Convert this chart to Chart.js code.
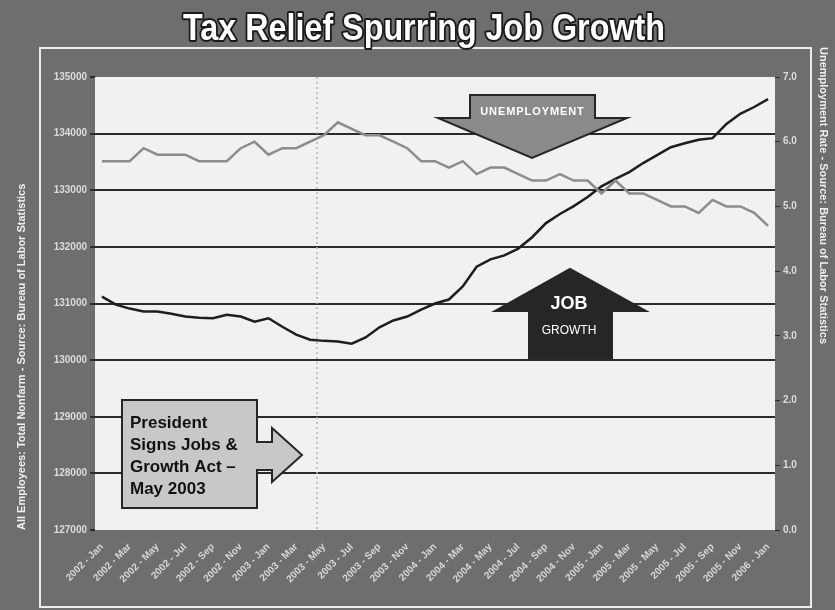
<!DOCTYPE html>
<html>
<head>
<meta charset="utf-8">
<script src="https://cdn.jsdelivr.net/npm/chart.js@4/dist/chart.umd.min.js"></script>
<style>
  html, body { margin: 0; padding: 0; background: #6e6e6e; }
  canvas { display: block; }
</style>
</head>
<body>
<canvas id="chart" width="835" height="610"></canvas>
<script>
// Meses y años del eje X (ene 2002 - ene 2006)
const years = [2002, 2003, 2004, 2005, 2006];
const months = ["Jan", "Feb", "Mar", "Apr", "May", "Jun", "Jul", "Aug", "Sep", "Oct", "Nov", "Dec"];

// Empleo total no agrícola (miles) - eje izquierdo
const employment = [
    131120, 130980, 130910, 130860, 130860, 130820, 130770, 130750, 130740, 130800, 130770, 130680,
    130740, 130590, 130450, 130360, 130340, 130330, 130290, 130400, 130580, 130700, 130770, 130890,
    131000, 131070, 131300, 131650, 131780, 131850, 131970, 132170, 132420, 132580, 132720, 132880,
    133070, 133200, 133320, 133480, 133620, 133760, 133830, 133890, 133920, 134170, 134350, 134470,
    134610
];

// Tasa de desempleo (%) - eje derecho
const unemployment = [
    5.7, 5.7, 5.7, 5.9, 5.8, 5.8, 5.8, 5.7, 5.7, 5.7, 5.9, 6.0,
    5.8, 5.9, 5.9, 6.0, 6.1, 6.3, 6.2, 6.1, 6.1, 6.0, 5.9, 5.7,
    5.7, 5.6, 5.7, 5.5, 5.6, 5.6, 5.5, 5.4, 5.4, 5.5, 5.4, 5.4,
    5.2, 5.4, 5.2, 5.2, 5.1, 5.0, 5.0, 4.9, 5.1, 5.0, 5.0, 4.9,
    4.7
];

// Escalas
const leftTicks = { min: 127000, max: 135000, step: 1000 };
const rightTicks = { min: 0, max: 7, step: 1 };

// Índice del mes de la firma de la ley (mayo 2003)
const actIndex = 16;

const labels = [];
years.forEach(y => months.forEach(m => labels.push(`${y} - ${m}`)));
labels.length = employment.length;

const FONT = "'Liberation Sans', Arial, sans-serif";

// Fondo, marco, anotaciones y textos
const decorPlugin = {
    id: "decor",
    beforeDraw(chart) {
        const { ctx, chartArea: a } = chart;
        ctx.save();
        ctx.fillStyle = "#6e6e6e";
        ctx.fillRect(0, 0, chart.width, chart.height);
        ctx.fillStyle = "#f1f1f1";
        ctx.fillRect(a.left, a.top, a.right - a.left, a.bottom - a.top);
        ctx.strokeStyle = "#ececec";
        ctx.lineWidth = 2;
        ctx.strokeRect(40, 48, 771, 559);
        ctx.restore();
    },
    beforeDatasetsDraw(chart) {
        const { ctx, chartArea: a } = chart;
        const xs = chart.scales.x;
        const half = (xs.getPixelForValue(1) - xs.getPixelForValue(0)) / 2;
        const x = xs.getPixelForValue(actIndex) - half;
        ctx.save();
        ctx.strokeStyle = "#b4b4b4";
        ctx.lineWidth = 1.5;
        ctx.setLineDash([2, 3]);
        ctx.beginPath();
        ctx.moveTo(x, a.top);
        ctx.lineTo(x, a.bottom);
        ctx.stroke();
        ctx.restore();
    },
    afterDatasetsDraw(chart) {
        const { ctx } = chart;
        ctx.save();
        ctx.lineJoin = "miter";
        ctx.lineWidth = 2;
        ctx.strokeStyle = "#262626";

        // Flecha "UNEMPLOYMENT" (hacia abajo)
        ctx.beginPath();
        ctx.moveTo(470, 95); ctx.lineTo(595, 95); ctx.lineTo(595, 118);
        ctx.lineTo(627, 118); ctx.lineTo(532, 158); ctx.lineTo(438, 118);
        ctx.lineTo(470, 118); ctx.closePath();
        ctx.fillStyle = "#8a8a8a";
        ctx.fill(); ctx.stroke();
        ctx.fillStyle = "#ffffff";
        ctx.font = `bold 11px ${FONT}`;
        ctx.textAlign = "center";
        ctx.textBaseline = "middle";
        ctx.fillText("U N E M P L O Y M E N T".replace(/ /g, "\u200A"), 532, 112);

        // Flecha "JOB GROWTH" (hacia arriba)
        ctx.beginPath();
        ctx.moveTo(570, 269); ctx.lineTo(646, 311); ctx.lineTo(612, 311);
        ctx.lineTo(612, 358); ctx.lineTo(529, 358); ctx.lineTo(529, 311);
        ctx.lineTo(495, 311); ctx.closePath();
        ctx.fillStyle = "#262626";
        ctx.fill(); ctx.stroke();
        ctx.fillStyle = "#ffffff";
        ctx.font = `bold 18px ${FONT}`;
        ctx.fillText("JOB", 569, 304);
        ctx.font = `12px ${FONT}`;
        ctx.fillText("GROWTH", 569, 331);

        // Globo "President Signs..."
        ctx.beginPath();
        ctx.moveTo(122, 400); ctx.lineTo(257, 400); ctx.lineTo(257, 442);
        ctx.lineTo(272, 442); ctx.lineTo(272, 428); ctx.lineTo(302, 455);
        ctx.lineTo(272, 482); ctx.lineTo(272, 470); ctx.lineTo(257, 470);
        ctx.lineTo(257, 508); ctx.lineTo(122, 508); ctx.closePath();
        ctx.fillStyle = "#c8c8c8";
        ctx.fill(); ctx.stroke();
        ctx.fillStyle = "#111111";
        ctx.font = `bold 17px ${FONT}`;
        ctx.textAlign = "left";
        ["President", "Signs Jobs &", "Growth Act \u2013", "May 2003"].forEach((t, i) => {
            ctx.fillText(t, 130, 423 + i * 22);
        });
        ctx.restore();
    },
    afterDraw(chart) {
        const { ctx } = chart;
        ctx.save();
        // Título
        const title = "Tax Relief Spurring Job Growth";
        ctx.font = `bold 36px 'Liberation Sans Narrow', 'Arial Narrow', ${FONT}`;
        const w = ctx.measureText(title).width;
        ctx.translate(424, 40);
        ctx.scale(482 / w, 1);
        ctx.textAlign = "center";
        ctx.textBaseline = "alphabetic";
        ctx.lineWidth = 4;
        ctx.lineJoin = "round";
        ctx.strokeStyle = "#1a1a1a";
        ctx.strokeText(title, 0, 0);
        ctx.fillStyle = "#ffffff";
        ctx.fillText(title, 0, 0);
        ctx.restore();

        // Títulos de ejes
        ctx.save();
        ctx.fillStyle = "#f0f0f0";
        ctx.font = `bold 11px ${FONT}`;
        ctx.textBaseline = "middle";
        ctx.translate(22, 530);
        ctx.rotate(-Math.PI / 2);
        ctx.textAlign = "left";
        ctx.fillText("All Employees: Total Nonfarm - Source: Bureau of Labor Statistics", 0, 0);
        ctx.restore();

        ctx.save();
        ctx.fillStyle = "#f0f0f0";
        ctx.font = `bold 11px ${FONT}`;
        ctx.textBaseline = "middle";
        ctx.translate(823, 47);
        ctx.rotate(Math.PI / 2);
        ctx.textAlign = "left";
        ctx.fillText("Unemployment Rate - Source: Bureau of Labor Statistics", 0, 0);
        ctx.restore();
    }
};

const ctx = document.getElementById("chart").getContext("2d");

new Chart(ctx, {
    type: "line",
    data: {
        labels: labels,
        datasets: [
            {
                label: "Unemployment Rate",
                data: unemployment,
                yAxisID: "y1",
                borderColor: "#8c8c8c",
                borderWidth: 2.5,
                pointRadius: 0,
                tension: 0,
                fill: false
            },
            {
                label: "All Employees: Total Nonfarm",
                data: employment,
                yAxisID: "y",
                borderColor: "#1e1e1e",
                borderWidth: 2.5,
                pointRadius: 0,
                tension: 0,
                fill: false
            }
        ]
    },
    options: {
        responsive: false,
        animation: false,
        layout: { padding: { top: 77, left: 0, right: 0, bottom: 0 } },
        plugins: {
            legend: { display: false },
            title: { display: false },
            tooltip: { enabled: false }
        },
        scales: {
            x: {
                type: "category",
                offset: true,
                border: { display: false },
                grid: { display: false, drawTicks: true },
                ticks: {
                    autoSkip: false,
                    maxRotation: 45,
                    minRotation: 45,
                    color: "#d6d6d6",
                    font: { family: FONT, size: 10, weight: "bold" },
                    callback: (v, i) => (i % 2 === 0 ? labels[i] : "")
                },
                afterFit: s => { s.height = 80; }
            },
            y: {
                position: "left",
                min: leftTicks.min,
                max: leftTicks.max,
                border: { display: false },
                grid: {
                    color: c => (c.index === 0 || c.index === 8 ? "rgba(0,0,0,0)" : "#2b2b2b"),
                    lineWidth: 2,
                    tickLength: 5,
                    tickColor: "#2b2b2b"
                },
                ticks: {
                    stepSize: leftTicks.step,
                    padding: 3,
                    color: "#dcdcdc",
                    font: { family: FONT, size: 10, weight: "bold" },
                    callback: v => String(v)
                },
                afterFit: s => { s.width = 95; }
            },
            y1: {
                position: "right",
                min: rightTicks.min,
                max: rightTicks.max,
                border: { display: false },
                grid: { drawOnChartArea: false, tickLength: 5, color: "#2b2b2b" },
                ticks: {
                    stepSize: rightTicks.step,
                    padding: 3,
                    color: "#dcdcdc",
                    font: { family: FONT, size: 10, weight: "bold" },
                    callback: v => v.toFixed(1)
                },
                afterFit: s => { s.width = 60; }
            }
        }
    },
    plugins: [decorPlugin]
});
</script>
</body>
</html>
